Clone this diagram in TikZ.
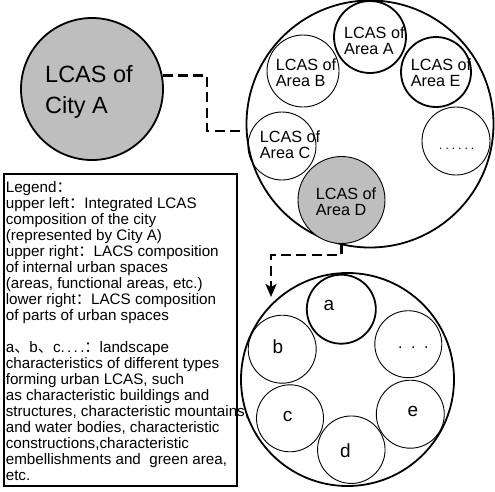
\documentclass[tikz,border=0pt]{standalone}
\usepackage{fontspec}
\setmainfont{Liberation Sans}
\newfontfamily\cjk{Noto Sans CJK SC}
\usetikzlibrary{arrows.meta}
\definecolor{fillgray}{RGB}{190,190,190}
\begin{document}
\begin{tikzpicture}[x=1pt,y=-1pt,
  bigc/.style={circle,draw,line width=1.8pt,inner sep=0pt},
  thinc/.style={circle,draw,line width=0.9pt,inner sep=0pt},
  thickc/.style={circle,draw,line width=1.8pt,inner sep=0pt},
  lbl/.style={inner sep=0pt,align=left,anchor=north west,font=\fontsize{16.2}{15.8}\selectfont},
  letter/.style={inner sep=0pt,font=\fontsize{19}{19}\selectfont},
  conn/.style={line width=2.8pt,dash pattern=on 10pt off 5.4pt}]
\useasboundingbox (0,0) rectangle (495,491);
% city
\node[bigc,fill=fillgray,minimum size=142pt] (city) at (92,89) {};
\node[inner sep=0pt,align=left,anchor=north west,font=\fontsize{23.5}{31}\selectfont] (citytext) at (45,65) {LCAS of\\City A};
% upper right
\node[bigc,minimum size=247pt] (big1) at (370,124) {};
\node[thickc,minimum size=72pt] (areaA) at (370,37) {};
\node[thinc,minimum size=72pt] (areaB) at (303,71) {};
\node[thickc,minimum size=70pt] (areaE) at (436,72) {};
\node[thinc,minimum size=68pt] (areaC) at (282,146) {};
\node[thinc,minimum size=68pt] (areaX) at (456,141) {};
\node[thinc,fill=fillgray,minimum size=87pt] (areaD) at (341.5,200) {};
\node[lbl] (tA) at (344,26.5) {LCAS of\\Area A};
\node[lbl] (tB) at (275.7,58.9) {LCAS of\\Area B};
\node[lbl] (tE) at (410.7,58.9) {LCAS of\\Area E};
\node[lbl] (tC) at (259.7,131) {LCAS of\\Area C};
\node[lbl] (tD) at (315.7,188) {LCAS of\\Area D};
\node[inner sep=0pt,anchor=base west,font=\fontsize{12}{12}\selectfont] (tX) at (439,149.3) {.\hspace{3pt}.\hspace{3pt}.\hspace{3pt}.\hspace{3pt}.\hspace{3pt}.};
% lower right
\node[bigc,minimum size=213pt] (big2) at (347.5,379.5) {};
\node[thickc,minimum size=69pt] (ca) at (341.3,309.2) {};
\node[thinc,minimum size=68pt] (cb) at (282.2,349.2) {};
\node[thinc,minimum size=67pt] (cx) at (408.3,344.2) {};
\node[thinc,minimum size=67pt] (cc) at (290,418.3) {};
\node[thinc,minimum size=68pt] (ce) at (410.3,414.2) {};
\node[thinc,minimum size=67.5pt] (cd) at (351.3,449.7) {};
\node[letter] (la) at (328.8,305.8) {a};
\node[letter] (lb) at (277.8,346.7) {b};
\node[letter] (lc) at (287.5,416.7) {c};
\node[letter] (le) at (413,411.5) {e};
\node[letter] (ld) at (345.5,450.8) {d};
\node[inner sep=0pt,anchor=base west,font=\fontsize{16}{16}\selectfont] (lx) at (398,348) {.\hspace{8.5pt}.\hspace{8.5pt}.};
% connectors
\coordinate (j1) at (207,131);
\draw[conn,shorten >=4.5pt] (city.11) -| (j1) -- (j1 -| big1.west);
\coordinate (j2) at (271,255);
\coordinate (tip) at (271,297);
\draw[conn,-{Stealth[length=13pt,width=11pt,inset=3pt]}] (areaD.south) |- (j2) -- (tip);
% legend
\node[draw,line width=2pt,minimum width=233pt,minimum height=312pt,inner sep=0pt,anchor=north west] (legendbox) at (3,173) {};
\node[anchor=north west,inner sep=0pt,align=left,font=\fontsize{15.2}{16}\selectfont] (legendtext) at (5.6,181) {Legend{\cjk ：}\\
upper left{\cjk ：}Integrated LCAS\\
composition of the city\\
(represented by City A)\\
upper right{\cjk ：}LACS composition\\
of internal urban spaces\\
(areas, functional areas, etc.)\\
lower right{\cjk ：}LACS composition\\
of parts of urban spaces\\
\mbox{}\\
a{\cjk 、}b{\cjk 、}c.\hspace{2.3pt}.\hspace{2.3pt}.\hspace{2.3pt}.{\cjk ：}landscape\\
characteristics of different types\\
forming urban LCAS, such\\
as characteristic buildings and\\
structures, characteristic mountains,\\
and water bodies, characteristic\\
constructions,characteristic\\
embellishments and\ \ green area,\\
etc.};
\end{tikzpicture}
\end{document}
